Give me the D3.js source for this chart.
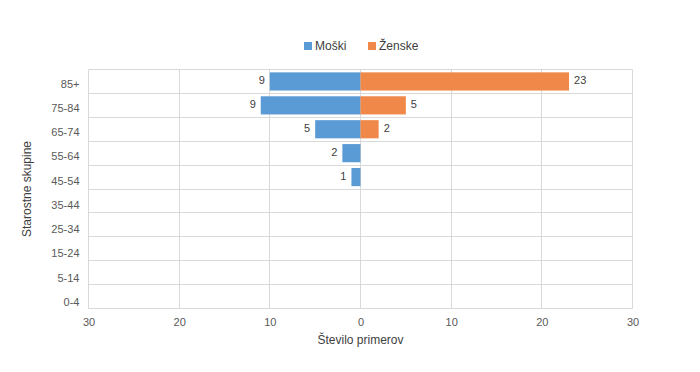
<!DOCTYPE html>
<html>
<head>
<meta charset="utf-8">
<style>
body { margin: 0; background: #fff; }
svg text { font-family: "Liberation Sans", "DejaVu Sans", sans-serif; }
.grid line { stroke: #d9d9d9; stroke-width: 1; }
.lbl { fill: #404040; font-size: 11px; }
.tick text { fill: #595959; font-size: 11px; }
</style>
</head>
<body>
<svg id="chart" width="700" height="372"></svg>
<script src="https://d3js.org/d3.v7.min.js"></script>
<script>
var groups = ["85+", "75-84", "65-74", "55-64", "45-54", "35-44", "25-34", "15-24", "5-14", "0-4"];
// bar lengths as drawn in the original
var maleBars   = [10, 11, 5, 2, 1, 0, 0, 0, 0, 0];
var femaleBars = [23, 5, 2, 0, 0, 0, 0, 0, 0, 0];
// labels as printed in the original
var maleLabels   = [9, 9, 5, 2, 1, null, null, null, null, null];
var femaleLabels = [23, 5, 2, null, null, null, null, null, null, null];
var xTicks = [-30, -20, -10, 0, 10, 20, 30];
var seriesNames = ["Moški", "Ženske"];
var colors = ["#5b9bd5", "#f08849"];

var margin = {top: 69.5, left: 88.5};
var width = 632.5 - margin.left, height = 308.5 - margin.top;

var svg = d3.select("#chart");
var g = svg.append("g").attr("transform", "translate(" + margin.left + "," + margin.top + ")");

var x = d3.scaleLinear().domain([-30, 30]).range([0, width]);
var y = d3.scaleBand().domain(groups).range([0, height]).paddingInner(0.24).paddingOuter(0.12);
var yb = d3.scaleBand().domain(groups).range([0, height]);
// category labels sit a little lower than the band centres in the original
var yl = d3.scalePoint().domain(groups).range([14, 232.5]);

// grid
var grid = g.append("g").attr("class", "grid");
grid.selectAll(".v").data(xTicks).enter().append("line")
  .attr("x1", function(d) { return Math.round(x(d)); })
  .attr("x2", function(d) { return Math.round(x(d)); })
  .attr("y1", 0).attr("y2", height);
var hl = groups.map(function(d) { return yb(d); }).concat([height]);
grid.selectAll(".h").data(hl).enter().append("line")
  .attr("x1", 0).attr("x2", width)
  .attr("y1", function(d) { return Math.round(d); })
  .attr("y2", function(d) { return Math.round(d); });

// bars
var rows = groups.map(function(gr, i) {
  return {g: gr, m: maleBars[i], f: femaleBars[i], ml: maleLabels[i], fl: femaleLabels[i]};
});

g.selectAll(".male").data(rows.filter(function(d) { return d.m > 0; })).enter().append("rect")
  .attr("fill", colors[0])
  .attr("x", function(d) { return x(-d.m); })
  .attr("y", function(d) { return y(d.g); })
  .attr("width", function(d) { return x(0) - x(-d.m); })
  .attr("height", y.bandwidth());

g.selectAll(".female").data(rows.filter(function(d) { return d.f > 0; })).enter().append("rect")
  .attr("fill", colors[1])
  .attr("x", x(0))
  .attr("y", function(d) { return y(d.g); })
  .attr("width", function(d) { return x(d.f) - x(0); })
  .attr("height", y.bandwidth());

g.selectAll(".ml").data(rows.filter(function(d) { return d.ml != null; })).enter().append("text")
  .attr("class", "lbl")
  .attr("text-anchor", "end")
  .attr("x", function(d) { return x(-d.m) - 5; })
  .attr("y", function(d) { return y(d.g) + y.bandwidth() / 2 - 1; })
  .attr("dy", "0.35em")
  .text(function(d) { return d.ml; });

g.selectAll(".fl").data(rows.filter(function(d) { return d.fl != null; })).enter().append("text")
  .attr("class", "lbl")
  .attr("x", function(d) { return x(d.f) + 5; })
  .attr("y", function(d) { return y(d.g) + y.bandwidth() / 2 - 1; })
  .attr("dy", "0.35em")
  .text(function(d) { return d.fl; });

// axes
var xAxis = g.append("g")
  .attr("transform", "translate(0," + height + ")")
  .call(d3.axisBottom(x).tickValues(xTicks).tickSize(0).tickPadding(10)
    .tickFormat(function(d) { return Math.abs(d); }));
xAxis.select(".domain").remove();

var yAxis = g.append("g")
  .call(d3.axisLeft(yl).tickSize(0).tickPadding(9));
yAxis.select(".domain").remove();

// axis titles
svg.append("text")
  .attr("x", margin.left + x(0)).attr("y", 344)
  .attr("text-anchor", "middle").attr("fill", "#404040").attr("font-size", "12px")
  .text("Število primerov");
svg.append("text")
  .attr("transform", "translate(31," + (margin.top + height / 2) + ") rotate(-90)")
  .attr("text-anchor", "middle").attr("fill", "#404040").attr("font-size", "12px")
  .text("Starostne skupine");

// legend
var leg = svg.append("g");
var legX = [304, 368];
seriesNames.forEach(function(n, i) {
  leg.append("rect").attr("x", legX[i]).attr("y", 42).attr("width", 8).attr("height", 8).attr("fill", colors[i]);
  leg.append("text").attr("x", legX[i] + 11).attr("y", 46).attr("dy", "0.35em")
    .attr("fill", "#404040").attr("font-size", "12px").text(n);
});
</script>
</body>
</html>
